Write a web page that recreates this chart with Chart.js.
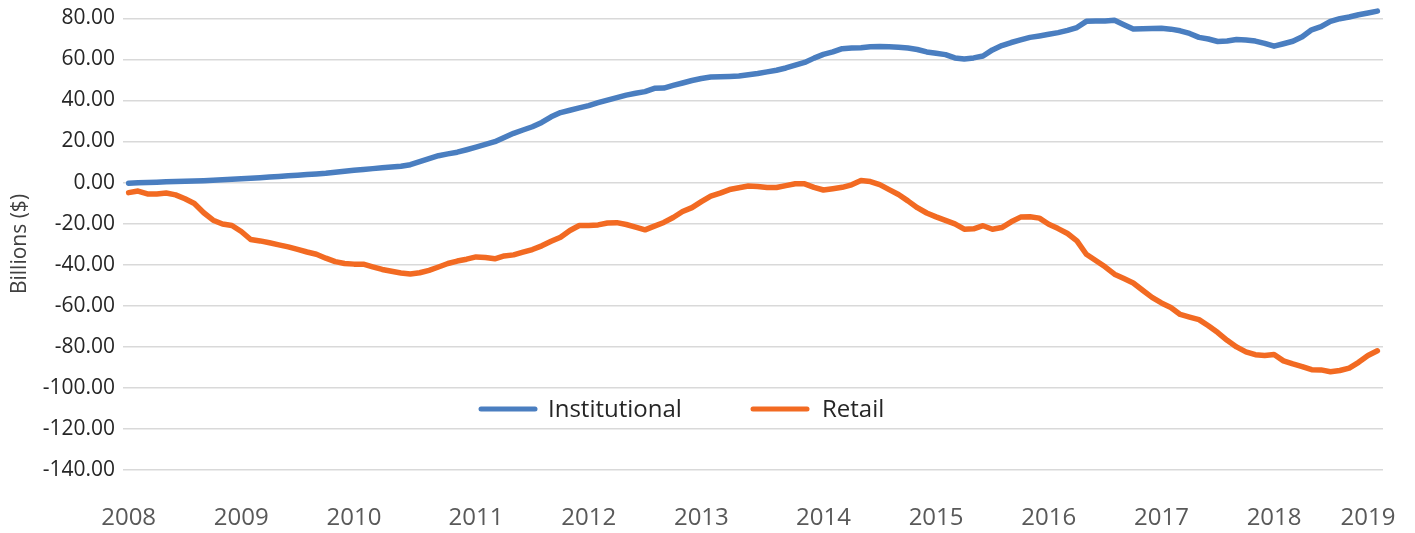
<!DOCTYPE html>
<html>
<head>
<meta charset="utf-8">
<script src="https://cdn.jsdelivr.net/npm/chart.js@4.4.1/dist/chart.umd.min.js"></script>
<style>
  html, body { margin: 0; padding: 0; background: #ffffff; }
  #wrap { position: relative; width: 1415px; height: 533px; }
</style>
</head>
<body>
<div id="wrap"><canvas id="c"></canvas></div>
<script>
// Year tick labels and the monthly category index at which each appears
const yearLabels = ['2008','2009','2010','2011','2012','2013','2014','2015','2016','2017','2018','2019'];
const yearTickIndex = [0, 12, 24, 37, 49, 61, 74, 86, 98, 110, 122, 132];

// Y-axis tick values
const yTicks = [-140, -120, -100, -80, -60, -40, -20, 0, 20, 40, 60, 80];

// Series names
const seriesNames = ['Institutional', 'Retail'];

// Monthly values (billions $), Jan 2008 onward
const institutional = [
  -0.3,-0.1,0.0,0.2,0.4,0.5,0.65,0.8,0.93,1.12,
  1.36,1.6,1.84,2.09,2.38,2.69,2.99,3.29,3.6,3.9,
  4.21,4.53,5.0,5.54,6.03,6.4,6.8,7.19,7.6,8.0,
  8.7,10.2,11.7,13.1,14.0,14.8,16.0,17.3,18.6,19.9,
  22.0,24.0,25.6,27.2,29.3,32.0,34.1,35.2,36.4,37.5,
  38.9,40.2,41.4,42.6,43.5,44.3,45.9,46.0,47.3,48.5,
  49.7,50.7,51.4,51.5,51.7,51.9,52.5,53.1,53.9,54.7,
  55.8,57.2,58.5,60.6,62.4,63.6,65.2,65.5,65.6,66.1,
  66.2,66.1,65.9,65.5,64.8,63.6,63.0,62.3,60.7,60.2,
  60.7,61.6,64.6,66.7,68.2,69.5,70.7,71.4,72.2,73.0,
  74.1,75.5,78.5,78.7,78.7,79.0,76.9,74.8,74.9,75.0,
  75.1,74.7,73.9,72.6,70.7,69.9,68.7,68.9,69.7,69.4,
  68.9,67.8,66.4,67.6,68.8,71.0,74.4,75.9,78.5,79.8,
  80.6,81.7,82.6,83.5
];
const retail = [
  -4.9,-4.1,-5.5,-5.5,-5.1,-6.0,-7.9,-10.2,-14.7,-18.3,
  -20.2,-20.9,-23.8,-27.7,-28.4,-29.3,-30.3,-31.3,-32.5,-33.8,
  -34.9,-36.8,-38.5,-39.4,-39.7,-39.7,-41.0,-42.3,-43.2,-44.0,
  -44.5,-43.9,-42.7,-41.1,-39.4,-38.2,-37.3,-36.2,-36.5,-37.1,
  -35.7,-35.2,-33.9,-32.6,-30.8,-28.6,-26.6,-23.3,-20.9,-20.9,
  -20.6,-19.7,-19.5,-20.4,-21.7,-23.0,-21.2,-19.4,-17.0,-14.1,
  -12.2,-9.3,-6.6,-5.1,-3.4,-2.5,-1.7,-1.9,-2.4,-2.4,
  -1.5,-0.6,-0.6,-2.3,-3.6,-3.0,-2.3,-1.1,1.0,0.5,
  -1.0,-3.4,-5.8,-8.9,-12.2,-14.8,-16.7,-18.4,-20.1,-22.7,
  -22.5,-21.0,-22.7,-21.9,-19.1,-16.8,-16.6,-17.3,-20.3,-22.4,
  -24.8,-28.4,-34.9,-37.9,-41.0,-44.6,-46.7,-48.9,-52.4,-55.9,
  -58.6,-60.8,-64.2,-65.5,-66.7,-69.7,-73.0,-76.8,-80.0,-82.4,
  -83.8,-84.2,-83.7,-86.8,-88.3,-89.6,-91.1,-91.2,-92.1,-91.5,
  -90.3,-87.5,-84.2,-81.9
];

const toPoints = arr => arr.map((v, i) => ({ x: i, y: v }));

const FONT = "'Open Sans', 'Noto Sans', sans-serif";

// Legend drawn inside the plot area
const inlineLegend = {
  id: 'inlineLegend',
  afterDatasetsDraw(chart) {
    const ctx = chart.ctx;
    const slots = [
      { x0: 481, x1: 535, tx: 548 },
      { x0: 753, x1: 807, tx: 822 }
    ];
    const y = 409;
    ctx.save();
    chart.data.datasets.forEach((ds, k) => {
      const s = slots[k];
      ctx.strokeStyle = ds.borderColor;
      ctx.lineWidth = 5;
      ctx.lineCap = 'round';
      ctx.beginPath();
      ctx.moveTo(s.x0, y);
      ctx.lineTo(s.x1, y);
      ctx.stroke();
      ctx.fillStyle = '#262626';
      ctx.font = "24px " + FONT;
      ctx.textBaseline = 'middle';
      ctx.textAlign = 'left';
      ctx.fillText(ds.label, s.tx, y + 1);
    });
    ctx.restore();
  }
};

const noEdgePadding = s => {
  s.paddingTop = 0; s.paddingBottom = 0; s.paddingLeft = 0; s.paddingRight = 0;
};

new Chart(document.getElementById('c'), {
  type: 'line',
  data: {
    datasets: [
      {
        label: seriesNames[0],
        data: toPoints(institutional),
        borderColor: '#4A7EC0',
        backgroundColor: '#4A7EC0',
        borderWidth: 5.5,
        pointRadius: 0,
        tension: 0,
        borderJoinStyle: 'round',
        borderCapStyle: 'round',
        fill: false
      },
      {
        label: seriesNames[1],
        data: toPoints(retail),
        borderColor: '#F26A22',
        backgroundColor: '#F26A22',
        borderWidth: 5.5,
        pointRadius: 0,
        tension: 0,
        borderJoinStyle: 'round',
        borderCapStyle: 'round',
        fill: false
      }
    ]
  },
  options: {
    responsive: true,
    maintainAspectRatio: false,
    animation: false,
    devicePixelRatio: 1,
    layout: { padding: { left: 0, right: 32, top: 0, bottom: 0 } },
    plugins: {
      legend: { display: false },
      tooltip: { enabled: false }
    },
    scales: {
      x: {
        type: 'linear',
        min: -0.6,
        max: 133.6,
        grid: { display: false, drawTicks: false },
        border: { display: false },
        afterBuildTicks: s => { s.ticks = yearTickIndex.map(v => ({ value: v })); },
        afterFit: s => { s.height = 45; noEdgePadding(s); },
        ticks: {
          autoSkip: false,
          maxRotation: 0,
          padding: 16,
          color: '#595959',
          font: { family: FONT, size: 24 },
          callback: v => { const k = yearTickIndex.indexOf(v); return k >= 0 ? yearLabels[k] : ''; }
        }
      },
      y: {
        min: -148.7,
        max: 88.9,
        afterBuildTicks: s => { s.ticks = yTicks.map(v => ({ value: v })); },
        afterFit: s => { s.width = 123; noEdgePadding(s); },
        grid: { color: '#d9d9d9', lineWidth: 1.5, drawTicks: false },
        border: { display: false },
        ticks: {
          padding: 8,
          color: '#262626',
          font: { family: FONT, size: 21 },
          callback: v => Number(v).toFixed(2)
        },
        title: {
          display: true,
          text: 'Billions ($)',
          color: '#404040',
          font: { family: FONT, size: 21 },
          padding: { top: 7, bottom: 0 }
        }
      }
    }
  },
  plugins: [inlineLegend]
});
</script>
</body>
</html>
